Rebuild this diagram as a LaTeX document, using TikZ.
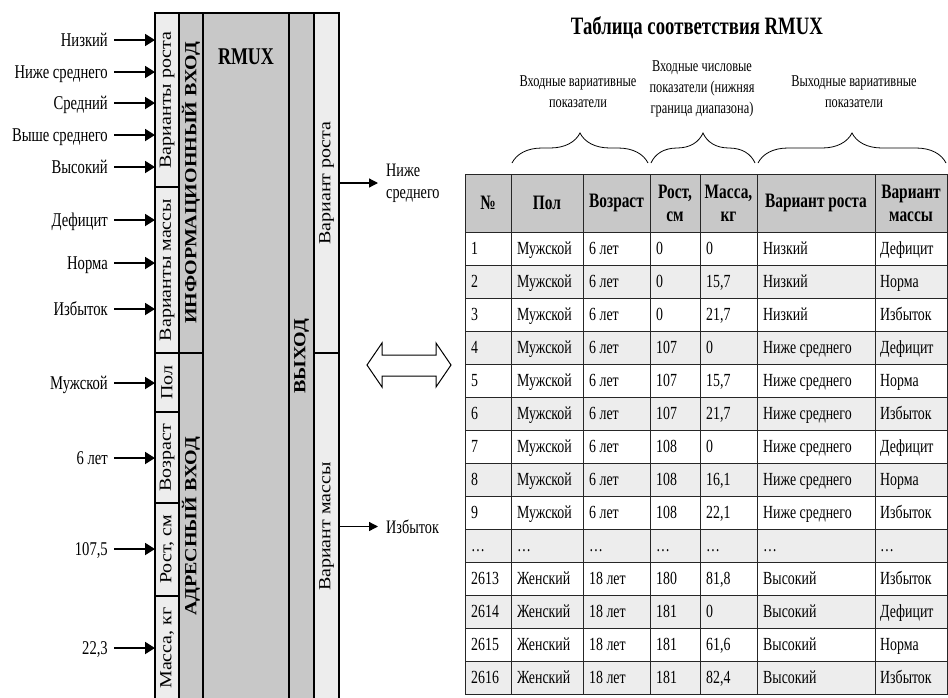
\documentclass[tikz,border=0pt]{standalone}
\usepackage{fontspec}
\setmainfont{Liberation Serif}[FakeStretch=0.75]
\newfontfamily\rotfont{Liberation Serif}
\usetikzlibrary{arrows.meta,decorations.pathreplacing}
\definecolor{cellgray}{RGB}{237,237,237}
\definecolor{blockgray}{RGB}{200,200,200}
\newcommand{\sidetext}[1]{\rotatebox{90}{\scalebox{1}[0.85]{\rotfont #1}}}
\tikzset{
  blk/.style={draw, inner sep=0pt, outer sep=0pt, line width=1.1pt},
  lightblk/.style={blk, fill=cellgray, font=\fontsize{20}{22}\selectfont},
  darkblk/.style={blk, fill=blockgray, font=\bfseries\fontsize{20}{22}\selectfont},
  inlbl/.style={anchor=east, inner xsep=6pt, inner ysep=0pt, text height=12pt, text depth=0pt, font=\fontsize{19.5}{21}\selectfont},
  outlbl/.style={anchor=west, inner xsep=8pt, align=left, font=\fontsize{19}{22}\selectfont},
  inarr/.style={line width=1.8pt, -{Triangle[length=10pt,width=12pt]}},
  outarr/.style={line width=1.3pt, -{Triangle[length=9pt,width=9pt]}},
  hd/.style={align=center, inner sep=0pt, font=\bfseries\fontsize{20.5}{23}\selectfont},
  td/.style={anchor=west, inner sep=0pt, text height=12pt, text depth=0pt, font=\fontsize{18.5}{20}\selectfont},
  grp/.style={align=center, font=\fontsize{16.5}{21}\selectfont},
  brc/.style={decorate, decoration={brace, amplitude=30pt}, line width=0.8pt},
  grid/.style={line width=0.9pt, draw=black!85}
}
\begin{document}
\begin{tikzpicture}[x=1pt, y=-1pt]
\useasboundingbox (0,0) rectangle (948,697);
\path node[lightblk, minimum width=24pt, minimum height=174pt] (vrost) at (167,100) {\sidetext{Варианты роста}}
node[lightblk, minimum width=24pt, minimum height=166pt] (vmass) at (167,270) {\sidetext{Варианты массы}}
node[lightblk, minimum width=24pt, minimum height=59pt] (pol) at (167,382.5) {\sidetext{Пол}}
node[lightblk, minimum width=24pt, minimum height=91pt] (voz) at (167,457.5) {\sidetext{Возраст}}
node[lightblk, minimum width=24pt, minimum height=93pt] (rost) at (167,549.5) {\sidetext{Рост, см}}
node[lightblk, minimum width=24pt, minimum height=104pt] (mass) at (167,648) {\sidetext{Масса, кг}}
node[darkblk, minimum width=24pt, minimum height=340pt] (info) at (191,183) {\sidetext{ИНФОРМАЦИОННЫЙ ВХОД}}
node[darkblk, minimum width=24pt, minimum height=347pt] (addr) at (191,526.5) {\sidetext{АДРЕСНЫЙ ВХОД}}
node[darkblk, minimum width=86pt, minimum height=687pt] (rmux) at (246,356.5) {}
node[darkblk, minimum width=25pt, minimum height=687pt] (vyhod) at (301.5,356.5) {\sidetext{ВЫХОД}}
node[lightblk, minimum width=25pt, minimum height=340pt] (outrost) at (326.5,183) {\sidetext{Вариант роста}}
node[lightblk, minimum width=25pt, minimum height=347pt] (outmass) at (326.5,526.5) {\sidetext{Вариант массы}}
node[font=\bfseries\fontsize{24}{26}\selectfont] (rmuxname) at (246,57) {RMUX}
node[inlbl] (nizk) at (114,40) {Низкий}
node[inlbl] (nsred) at (114,72) {Ниже среднего}
node[inlbl] (sred) at (114,103) {Средний}
node[inlbl] (vsred) at (114,135) {Выше среднего}
node[inlbl] (vys) at (114,167) {Высокий}
node[inlbl] (defic) at (114,220) {Дефицит}
node[inlbl] (norma) at (114,263) {Норма}
node[inlbl] (izb) at (114,309) {Избыток}
node[inlbl] (muzh) at (114,383) {Мужской}
node[inlbl] (age) at (114,458) {6 лет}
node[inlbl] (htval) at (114,549) {107,5}
node[inlbl] (wtval) at (114,648) {22,3}
node[outlbl] (outnizhe) at (378,183) {Ниже\\среднего}
node[outlbl] (outizb) at (378,526.5) {Избыток}
node[font=\bfseries\fontsize{25}{27}\selectfont] (title) at (697,28) {Таблица соответствия RMUX}
node[grp] (grpin) at (578,92) {Входные вариативные\\показатели}
node[grp] (grpnum) at (702,89) {Входные числовые\\показатели (нижняя\\граница диапазона)}
node[grp] (grpout) at (854,92) {Выходные вариативные\\показатели}
;
\draw[inarr] (nizk.east) -- (nizk.east -| vrost.west);
\draw[inarr] (nsred.east) -- (nsred.east -| vrost.west);
\draw[inarr] (sred.east) -- (sred.east -| vrost.west);
\draw[inarr] (vsred.east) -- (vsred.east -| vrost.west);
\draw[inarr] (vys.east) -- (vys.east -| vrost.west);
\draw[inarr] (defic.east) -- (defic.east -| vmass.west);
\draw[inarr] (norma.east) -- (norma.east -| vmass.west);
\draw[inarr] (izb.east) -- (izb.east -| vmass.west);
\draw[inarr] (muzh.east) -- (muzh.east -| pol.west);
\draw[inarr] (age.east) -- (age.east -| voz.west);
\draw[inarr] (htval.east) -- (htval.east -| rost.west);
\draw[inarr] (wtval.east) -- (wtval.east -| mass.west);
\draw[outarr] (outrost.east) -- (outnizhe.west);
\draw[outarr] (outmass.east) -- (outizb.west);
\draw[line width=1pt, fill=white] (367,365) -- (382,343) -- (382,355) -- (436,355) -- (436,343) -- (451,365) -- (436,387) -- (436,376) -- (382,376) -- (382,387) -- cycle;
\draw[brc] (512,163) -- (648,163);
\draw[brc] (651,163) -- (755,163);
\draw[brc] (758,163) -- (946,163);
\fill[blockgray] (465,174) rectangle (947,232);
\foreach \i in {2,4,...,14} \fill[cellgray] (465,{199+33*\i}) rectangle (947,{232+33*\i});
\foreach \k in {0,...,13} \draw[grid] (465,{232+33*\k}) -- (947,{232+33*\k});
\foreach \xx in {511,583,650,700,757,875} \draw[grid] (\xx,174) -- (\xx,694);
\draw[grid] (465,174) rectangle (947,694);
\path node[hd] (hnr) at (488,203) {№}
node[hd] (hsx) at (547,203) {Пол}
node[hd] (hage) at (616.5,203) {Возраст}
node[hd] (hht) at (675,203) {Рост,\\см}
node[hd] (hwt) at (728.5,203) {Масса,\\кг}
node[hd] (hhv) at (816,203) {Вариант роста}
node[hd] (hwv) at (911,203) {Вариант\\массы}
;
\foreach \i/\nr/\sx/\ag/\hgt/\wgt/\hv/\wv in {
1/1/Мужской/6 лет/0/0/Низкий/Дефицит,
2/2/Мужской/6 лет/0/{15,7}/Низкий/Норма,
3/3/Мужской/6 лет/0/{21,7}/Низкий/Избыток,
4/4/Мужской/6 лет/107/0/Ниже среднего/Дефицит,
5/5/Мужской/6 лет/107/{15,7}/Ниже среднего/Норма,
6/6/Мужской/6 лет/107/{21,7}/Ниже среднего/Избыток,
7/7/Мужской/6 лет/108/0/Ниже среднего/Дефицит,
8/8/Мужской/6 лет/108/{16,1}/Ниже среднего/Норма,
9/9/Мужской/6 лет/108/{22,1}/Ниже среднего/Избыток,
11/2613/Женский/18 лет/180/{81,8}/Высокий/Избыток,
12/2614/Женский/18 лет/181/0/Высокий/Дефицит,
13/2615/Женский/18 лет/181/{61,6}/Высокий/Норма,
14/2616/Женский/18 лет/181/{82,4}/Высокий/Избыток}
{
\path node[td] (nr\i) at (471,{215.5+33*\i}) {\nr}
node[td] (sx\i) at (517,{215.5+33*\i}) {\sx}
node[td] (ag\i) at (589,{215.5+33*\i}) {\ag}
node[td] (ht\i) at (656,{215.5+33*\i}) {\hgt}
node[td] (wt\i) at (706,{215.5+33*\i}) {\wgt}
node[td] (hv\i) at (763,{215.5+33*\i}) {\hv}
node[td] (wv\i) at (880,{215.5+33*\i}) {\wv};
}
\foreach \xx [count=\c] in {471,517,589,656,706,763,880}
  \path node[td] (skip\c) at (\xx,545.5) {\ldots};
\end{tikzpicture}
\end{document}
